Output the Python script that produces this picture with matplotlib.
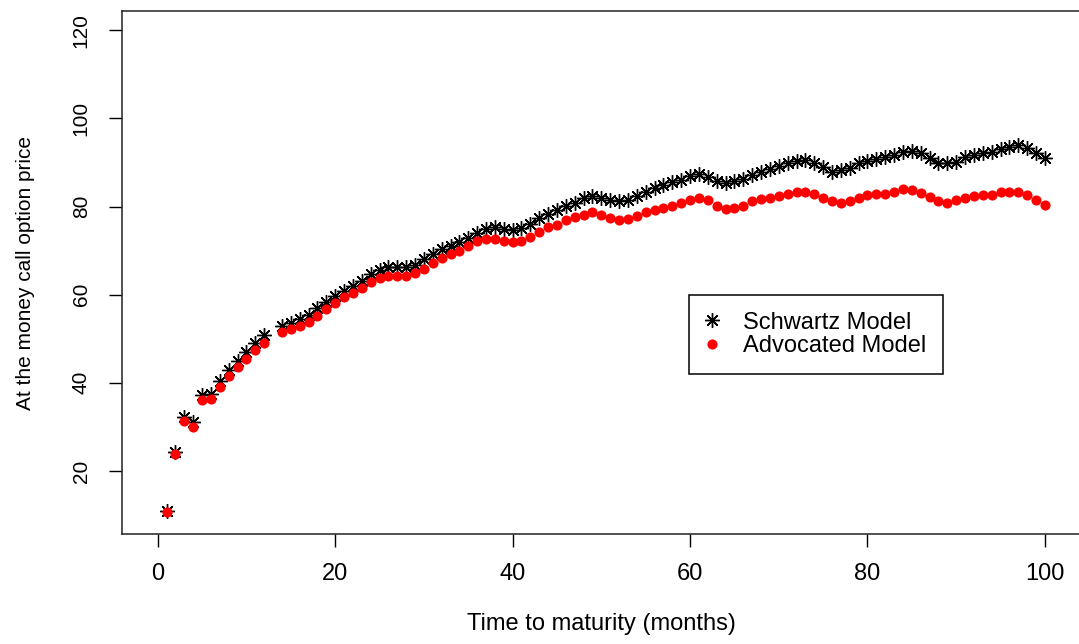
import matplotlib
matplotlib.use('Agg')
import matplotlib.pyplot as plt

# months 1..100, month 13 is absent in the source figure
months = list(range(1, 13)) + list(range(14, 101))

schwartz = [
    11.0, 24.3, 32.2, 31.0, 37.3, 37.4, 40.4, 42.9, 45.0, 47.0, 49.0, 50.8,
    53.0, 53.6, 54.4, 55.5, 56.9, 58.3, 59.7, 60.8, 61.9, 63.2, 64.6, 65.6,
    66.2, 66.2, 66.3, 66.8, 68.0, 69.3, 70.4, 71.1, 71.9, 72.9, 74.1, 75.0,
    75.3, 74.9, 74.6, 75.2, 76.1, 77.4, 78.4, 79.3, 80.2, 80.9, 81.9, 82.4,
    81.9, 81.4, 81.2, 81.4, 82.3, 83.4, 84.2, 84.9, 85.5, 86.1, 87.0, 87.4,
    86.8, 85.9, 85.3, 85.7, 86.2, 87.2, 87.9, 88.5, 89.2, 89.8, 90.4, 90.6,
    90.0, 88.9, 87.9, 88.3, 88.7, 89.8, 90.4, 90.7, 91.2, 91.7, 92.5, 92.7,
    92.1, 91.0, 90.0, 89.8, 90.2, 91.2, 91.7, 92.2, 92.5, 93.0, 93.6, 94.0,
    93.2, 92.1, 91.0,
]

advocated = [
    10.7, 23.8, 31.4, 30.0, 36.1, 36.3, 39.1, 41.5, 43.5, 45.3, 47.4, 49.1,
    51.5, 52.1, 52.9, 53.8, 55.2, 56.8, 58.2, 59.4, 60.4, 61.6, 62.9, 63.8,
    64.3, 64.3, 64.3, 65.0, 65.9, 67.2, 68.3, 69.3, 70.0, 71.1, 72.1, 72.6,
    72.7, 72.3, 72.0, 72.3, 73.2, 74.3, 75.3, 75.9, 77.0, 77.6, 78.1, 78.7,
    78.1, 77.4, 77.0, 77.2, 77.8, 78.7, 79.3, 79.7, 80.2, 80.8, 81.5, 81.9,
    81.4, 80.2, 79.5, 79.7, 80.2, 81.2, 81.7, 81.9, 82.3, 82.9, 83.4, 83.4,
    82.9, 81.9, 81.2, 80.8, 81.3, 81.9, 82.7, 82.9, 82.9, 83.4, 84.0, 83.8,
    83.0, 82.1, 81.2, 80.8, 81.4, 81.9, 82.4, 82.7, 82.7, 83.2, 83.4, 83.4,
    82.7, 81.5, 80.4,
]

x_ticks = [0, 20, 40, 60, 80, 100]
y_ticks = [20, 40, 60, 80, 100, 120]

plt.rcParams['font.family'] = ['Liberation Sans', 'DejaVu Sans']
FS = 17

fig = plt.figure(figsize=(10.79, 6.44), dpi=100)
# right border of the R box falls just outside the picture
ax = fig.add_axes([0.1133, 0.1703, 0.888, 0.8126])

ax.plot(months, schwartz, linestyle='none', marker=(8, 2, 0), markersize=10.5,
        markeredgewidth=1.0, color='black', label='Schwartz Model')
ax.plot(months, advocated, linestyle='none', marker='o', markersize=7.3,
        color='#ff0000', markeredgewidth=0, label='Advocated Model')

ax.set_xlim(-4, 104)
ax.set_ylim(5.6, 124.4)
ax.set_xticks(x_ticks)
ax.set_yticks(y_ticks)
ax.tick_params(direction='out', length=9.6, width=1, color='black')
ax.tick_params(axis='x', pad=11, labelsize=FS)
ax.tick_params(axis='y', pad=13, labelsize=15, labelrotation=90)
for lab in ax.get_yticklabels():
    lab.set_va('center')
for sp in ax.spines.values():
    sp.set_linewidth(1.1)
    sp.set_color('#222222')

ax.set_xlabel('Time to maturity (months)', fontsize=FS)
ax.xaxis.set_label_coords(0.5, -0.1714)
ax.xaxis.label.set_va('center')
ax.set_ylabel('At the money call option price', fontsize=15)
ax.yaxis.set_label_coords(-0.1005, 0.5)
ax.yaxis.label.set_va('center')

leg = ax.legend(loc='upper left', bbox_to_anchor=(689 / 1079, 1 - 295 / 644),
                bbox_transform=fig.transFigure, borderaxespad=0, fontsize=FS,
                frameon=True, fancybox=False, framealpha=1, edgecolor='black',
                borderpad=0.7, handlelength=0.53, handletextpad=1.06,
                labelspacing=0.08, markerscale=1.0)
leg.get_frame().set_linewidth(1.1)

fig.savefig('out.png', dpi=100)
plt.close(fig)
